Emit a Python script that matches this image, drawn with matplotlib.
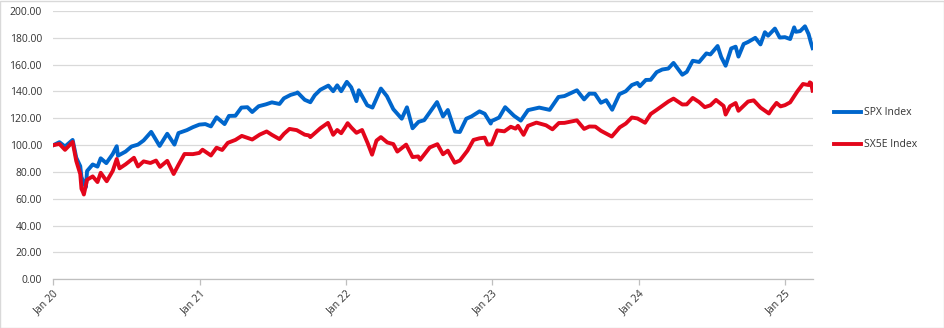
import matplotlib
matplotlib.use("Agg")
import matplotlib.pyplot as plt
import matplotlib.dates as mdates
from matplotlib.patches import Rectangle
import pandas as pd

plt.rcParams['font.family'] = ['Open Sans', 'DejaVu Sans']

spx_dates = [
    "2020-01-02", "2020-01-17", "2020-01-31", "2020-02-19", "2020-02-28", "2020-03-09", "2020-03-12",
    "2020-03-16", "2020-03-23", "2020-03-26", "2020-04-09", "2020-04-21", "2020-04-29", "2020-05-13",
    "2020-05-29", "2020-06-08", "2020-06-11", "2020-06-30", "2020-07-15", "2020-07-31", "2020-08-14",
    "2020-09-02", "2020-09-23", "2020-10-12", "2020-10-30", "2020-11-09", "2020-11-30", "2020-12-15",
    "2020-12-31",
    "2021-01-15", "2021-01-29", "2021-02-12", "2021-03-04", "2021-03-15", "2021-03-31", "2021-04-15",
    "2021-04-30", "2021-05-12", "2021-05-28", "2021-06-15", "2021-06-30", "2021-07-19", "2021-07-30",
    "2021-08-16", "2021-08-31", "2021-09-02", "2021-09-20", "2021-10-04", "2021-10-15", "2021-10-29",
    "2021-11-18", "2021-11-30", "2021-12-10", "2021-12-20", "2022-01-03",
    "2022-01-14", "2022-01-27", "2022-02-02", "2022-02-23", "2022-03-08", "2022-03-29", "2022-04-13",
    "2022-04-29", "2022-05-20", "2022-06-02", "2022-06-16", "2022-07-01", "2022-07-15", "2022-08-16",
    "2022-08-31", "2022-09-12", "2022-09-30", "2022-10-12", "2022-10-28", "2022-11-10", "2022-11-30",
    "2022-12-13", "2022-12-28", "2022-12-30",
    "2023-01-18", "2023-02-02", "2023-02-24", "2023-03-13", "2023-03-31", "2023-04-28", "2023-05-24",
    "2023-06-15", "2023-06-30", "2023-07-31", "2023-08-18", "2023-08-31", "2023-09-14", "2023-09-29",
    "2023-10-12", "2023-10-27", "2023-11-14", "2023-11-30", "2023-12-15", "2023-12-29",
    "2024-01-04", "2024-01-19", "2024-01-31", "2024-02-15", "2024-02-29", "2024-03-15", "2024-03-28",
    "2024-04-19", "2024-04-30", "2024-05-15", "2024-05-31", "2024-06-18", "2024-06-28", "2024-07-16",
    "2024-07-25", "2024-08-05", "2024-08-19", "2024-08-30", "2024-09-06", "2024-09-19", "2024-09-30",
    "2024-10-18", "2024-10-31", "2024-11-11", "2024-11-19", "2024-12-06", "2024-12-18", "2024-12-31",
    "2025-01-13", "2025-01-23", "2025-01-27", "2025-02-07", "2025-02-19", "2025-02-28", "2025-03-06",
    "2025-03-10",
]
spx_values = [
    100.0, 102.2, 99.0, 103.9, 90.7, 84.3, 76.2,
    73.2, 68.7, 80.7, 85.6, 84.0, 90.2, 86.6,
    93.4, 99.2, 92.1, 95.2, 99.0, 100.4, 103.5,
    109.9, 99.4, 108.5, 100.4, 109.0, 111.2, 113.4,
    115.3,
    115.7, 114.0, 120.8, 115.7, 121.8, 121.9, 128.0,
    128.3, 124.7, 129.0, 130.4, 131.9, 130.7, 134.9,
    137.5, 138.8, 139.3, 133.8, 132.0, 137.2, 141.3,
    144.4, 140.2, 144.6, 140.2, 147.2,
    143.1, 132.8, 140.9, 129.7, 128.0, 142.2, 136.5,
    126.8, 119.7, 128.2, 112.6, 117.4, 118.6, 132.1,
    121.4, 126.2, 110.1, 109.8, 119.7, 121.4, 125.2,
    123.4, 116.1, 117.9,
    120.6, 128.3, 121.9, 118.3, 126.1, 128.0, 126.3,
    135.9, 136.6, 140.9, 134.1, 138.4, 138.3, 131.6,
    133.5, 126.4, 138.0, 140.2, 144.8, 146.4,
    143.9, 148.6, 148.7, 154.4, 156.4, 157.1, 161.3,
    152.5, 154.6, 162.9, 162.0, 168.4, 167.6, 173.9,
    165.7, 159.2, 172.1, 173.4, 166.0, 175.4, 176.9,
    180.0, 175.1, 184.2, 181.6, 186.9, 180.2, 180.5,
    179.1, 187.8, 184.5, 185.0, 188.6, 182.8, 176.2,
    172.3,
]

sx5e_dates = [
    "2020-01-02", "2020-01-17", "2020-01-31", "2020-02-19", "2020-02-28", "2020-03-09", "2020-03-12",
    "2020-03-16", "2020-03-18", "2020-03-26", "2020-04-09", "2020-04-21", "2020-04-29", "2020-05-14",
    "2020-05-29", "2020-06-08", "2020-06-15", "2020-06-30", "2020-07-21", "2020-07-31", "2020-08-14",
    "2020-08-31", "2020-09-14", "2020-09-24", "2020-10-12", "2020-10-28", "2020-11-09", "2020-11-24",
    "2020-12-15", "2020-12-31",
    "2021-01-08", "2021-01-29", "2021-02-12", "2021-02-26", "2021-03-12", "2021-03-31", "2021-04-16",
    "2021-04-30", "2021-05-12", "2021-05-31", "2021-06-17", "2021-06-30", "2021-07-19", "2021-07-30",
    "2021-08-13", "2021-08-31", "2021-09-20", "2021-09-30", "2021-10-04", "2021-10-29", "2021-11-17",
    "2021-11-30", "2021-12-10", "2021-12-20", "2021-12-31",
    "2022-01-05", "2022-01-14", "2022-01-27", "2022-02-10", "2022-02-24", "2022-03-07", "2022-03-18",
    "2022-03-29", "2022-04-14", "2022-04-29", "2022-05-09", "2022-05-31", "2022-06-16", "2022-06-30",
    "2022-07-05", "2022-07-29", "2022-08-17", "2022-08-31", "2022-09-12", "2022-09-29", "2022-10-12",
    "2022-10-31", "2022-11-15", "2022-11-30", "2022-12-13", "2022-12-20", "2022-12-30",
    "2023-01-13", "2023-01-31", "2023-02-16", "2023-02-28", "2023-03-06", "2023-03-20", "2023-03-31",
    "2023-04-21", "2023-05-15", "2023-05-31", "2023-06-16", "2023-06-30", "2023-07-31", "2023-08-18",
    "2023-08-31", "2023-09-15", "2023-09-29", "2023-10-26", "2023-11-15", "2023-11-30", "2023-12-15",
    "2023-12-29",
    "2024-01-17", "2024-01-31", "2024-02-15", "2024-02-29", "2024-03-15", "2024-03-28", "2024-04-19",
    "2024-04-30", "2024-05-15", "2024-05-31", "2024-06-14", "2024-06-28", "2024-07-12", "2024-07-31",
    "2024-08-05", "2024-08-16", "2024-08-30", "2024-09-06", "2024-09-30", "2024-10-14", "2024-10-31",
    "2024-11-21", "2024-11-29", "2024-12-10", "2024-12-20", "2024-12-31",
    "2025-01-13", "2025-01-31", "2025-02-14", "2025-02-28", "2025-03-03", "2025-03-06", "2025-03-10",
]
sx5e_values = [
    100.0, 100.9, 96.5, 102.4, 88.2, 78.5, 67.5,
    64.9, 63.2, 74.2, 76.7, 72.5, 79.4, 73.1,
    80.8, 89.7, 82.7, 85.7, 90.6, 84.1, 87.9,
    86.7, 88.5, 83.8, 88.3, 78.5, 85.3, 93.4,
    93.3, 94.2,
    96.6, 92.3, 98.1, 96.4, 101.7, 103.9, 106.9,
    105.4, 104.2, 107.9, 110.2, 107.7, 104.5, 108.4,
    112.1, 111.2, 107.8, 107.3, 106.0, 112.6, 116.6,
    107.7, 111.3, 108.9, 113.9,
    116.4, 113.2, 109.2, 111.3, 101.5, 92.9, 103.4,
    106.0, 102.0, 100.8, 95.2, 100.4, 91.1, 91.6,
    89.1, 98.3, 100.7, 93.2, 95.9, 86.9, 88.5,
    95.9, 103.9, 105.1, 105.6, 100.5, 100.6,
    111.0, 110.3, 113.7, 112.3, 114.4, 107.7, 114.4,
    116.8, 114.8, 111.8, 116.5, 116.6, 118.5, 112.1,
    113.9, 113.8, 110.7, 106.4, 113.3, 116.1, 120.6,
    119.9,
    116.7, 123.2, 126.3, 129.3, 132.5, 134.7, 130.3,
    130.4, 135.2, 132.1, 128.3, 129.7, 133.7, 129.2,
    122.8, 129.0, 131.4, 125.6, 132.5, 133.4, 128.0,
    123.6, 127.3, 131.5, 128.9, 129.8,
    131.9, 140.1, 145.6, 144.8, 146.8, 146.3, 140.6,
]

series_names = ["SPX Index", "SX5E Index"]
y_ticks = [0, 20, 40, 60, 80, 100, 120, 140, 160, 180, 200]
x_tick_years = [2020, 2021, 2022, 2023, 2024, 2025]

BLUE = "#0066CC"
RED = "#E3061B"

fig = plt.figure(figsize=(9.45, 3.28), dpi=100)
ax = fig.add_axes([53 / 945, 1 - 279.3 / 328, (813 - 53) / 945, (279.3 - 11) / 328])

ax.plot(pd.to_datetime(spx_dates), spx_values, color=BLUE, lw=2.8, label=series_names[0],
        solid_joinstyle='round')
ax.plot(pd.to_datetime(sx5e_dates), sx5e_values, color=RED, lw=2.8, label=series_names[1],
        solid_joinstyle='round')

ax.set_ylim(0, 200)
ax.set_yticks(y_ticks)
ax.set_yticklabels([f"{v:.2f}" for v in y_ticks])
ax.set_xlim(pd.Timestamp("2020-01-01"), pd.Timestamp("2025-03-11"))
ax.set_xticks([pd.Timestamp(f"{y}-01-01") for y in x_tick_years])
ax.xaxis.set_major_formatter(mdates.DateFormatter("%b %y"))

ax.grid(axis='y', color='#D9D9D9', lw=0.9)
ax.set_axisbelow(True)
for s in ['top', 'right', 'left']:
    ax.spines[s].set_visible(False)
ax.spines['bottom'].set_color('#BFBFBF')
ax.spines['bottom'].set_linewidth(0.9)
ax.tick_params(axis='y', length=0, pad=8, labelsize=7.5, labelcolor='#333333')
ax.tick_params(axis='x', length=4, width=0.9, color='#BFBFBF', pad=2, labelsize=7.5, labelcolor='#333333')
for lbl in ax.get_xticklabels():
    lbl.set_rotation(45)
    lbl.set_ha('right')
    lbl.set_va('top')
    lbl.set_rotation_mode('anchor')

leg = fig.legend(loc='upper left', bbox_to_anchor=(825 / 945, 1 - 98 / 328), frameon=False,
                 fontsize=7.5, handlelength=2.6, handletextpad=0.2, labelspacing=2.0,
                 labelcolor='#333333')

fig.patches.append(Rectangle((0.0005, 0.001), 0.998, 0.997, transform=fig.transFigure,
                             fill=False, edgecolor='#D9D9D9', lw=1))

fig.savefig("out.png", dpi=100)
